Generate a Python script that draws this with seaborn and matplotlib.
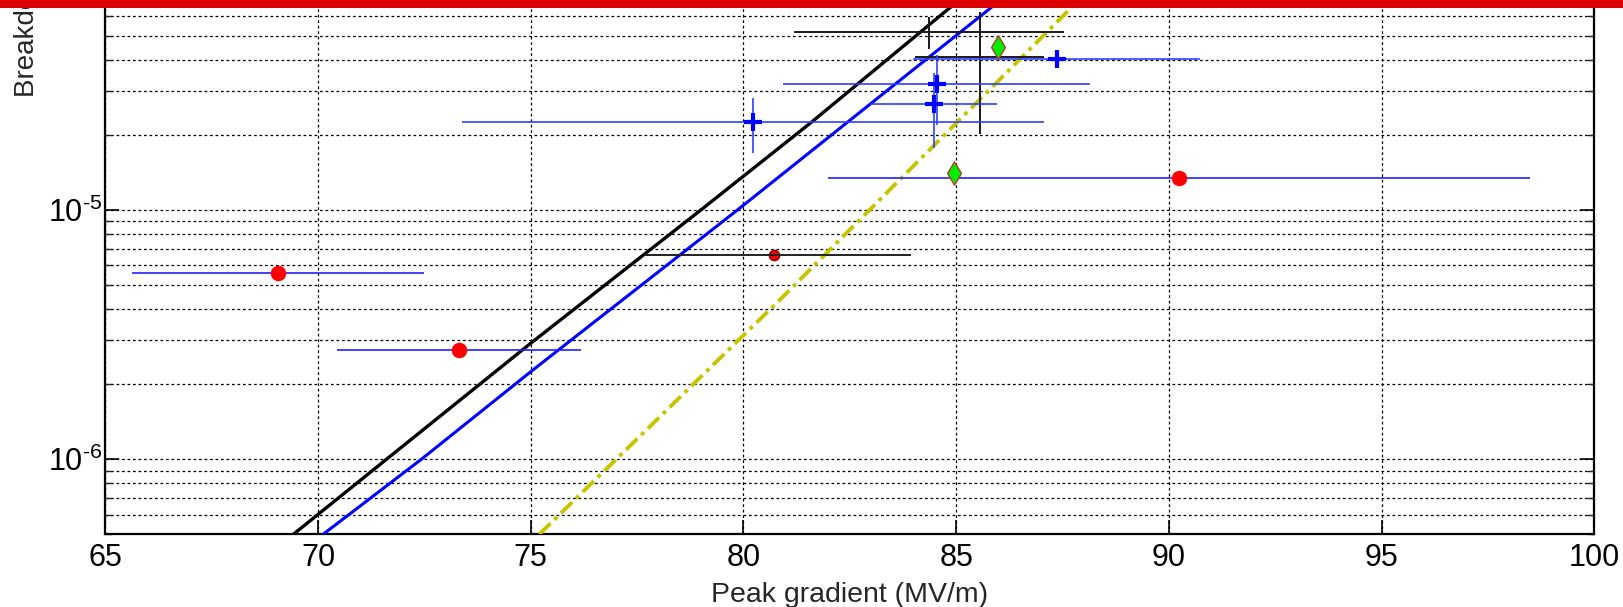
import matplotlib
matplotlib.use("Agg")
import matplotlib.pyplot as plt
import seaborn as sns
from matplotlib.ticker import (LogLocator, FuncFormatter, NullFormatter,
                               FixedLocator)
from matplotlib.patches import Rectangle
import numpy as np

# Scaling-law curves: peak gradient (MV/m) vs breakdown rate (1/pulse/m)
fit_black_E = [69.42, 71.61, 75.0, 79.0, 81.6, 84.84, 85.4]
fit_black_bdr = [5.0e-7, 1.0e-6, 2.92e-6, 1.0e-5, 2.25e-5, 6.45e-5, 7.6e-5]

fit_blue_E = [70.12, 72.43, 75.05, 79.86, 85.85, 86.3]
fit_blue_bdr = [5.0e-7, 1.0e-6, 2.28e-6, 1.0e-5, 6.54e-5, 7.6e-5]

fit_yellow_E = [75.2, 80.85, 86.05, 87.73, 88.1]
fit_yellow_bdr = [5.0e-7, 4.35e-6, 3.37e-5, 6.54e-5, 7.6e-5]

# Measured structures
red_E = [69.05, 73.32, 90.24]
red_bdr = [5.57e-6, 2.745e-6, 1.349e-5]
red_xerr = [3.43, 2.87, 8.25]

dark_E = [80.72]
dark_bdr = [6.6e-6]
dark_xerr_lo = [3.04]
dark_xerr_hi = [3.22]

green_E = [84.95, 85.99]
green_bdr = [1.403e-5, 4.5e-5]

cross_E = [80.22, 84.54, 84.47, 87.36]
cross_bdr = [2.254e-5, 3.19e-5, 2.66e-5, 4.02e-5]
cross_xerr = [6.84, 3.6, 1.49, 3.37]
cross_yerr = [0.56e-5, 1.0e-5, 0.88e-5, 0.0]

black_E = [84.37, 85.55]
black_bdr = [5.19e-5, 4.12e-5]
black_xerr = [3.17, 1.52]
black_yerr = [0.77e-5, 2.1e-5]

x_ticks = [65, 70, 75, 80, 85, 90, 95, 100]

sns.set_style("ticks")
plt.rcParams["font.family"] = ["Liberation Sans", "DejaVu Sans"]
plt.rcParams["mathtext.fontset"] = "custom"
plt.rcParams["mathtext.rm"] = "Liberation Sans"
plt.rcParams["mathtext.default"] = "regular"

fig = plt.figure(figsize=(16.23, 6.07), dpi=100)
ax = fig.add_axes([0.0649, 0.1198, 0.9174, 0.945])

ax.set_yscale("log")

# fitted curves
sns.lineplot(x=fit_black_E, y=fit_black_bdr, ax=ax, color="black", lw=2.4,
             sort=False, estimator=None, zorder=3)
sns.lineplot(x=fit_blue_E, y=fit_blue_bdr, ax=ax, color="#0000ff", lw=2.2,
             sort=False, estimator=None, zorder=3)
sns.lineplot(x=fit_yellow_E, y=fit_yellow_bdr, ax=ax, color="#c8c400", lw=2.8,
             sort=False, estimator=None, zorder=3)
ax.lines[-1].set_linestyle((0, (4, 1.4, 1, 1.4)))

# error bars
ax.errorbar(red_E, red_bdr, xerr=red_xerr, fmt="none", ecolor="#2020ff",
            elinewidth=1.2, capsize=0, zorder=4)
ax.errorbar(dark_E, dark_bdr, xerr=[dark_xerr_lo, dark_xerr_hi], fmt="none",
            ecolor="#222222", elinewidth=1.4, capsize=0, zorder=6)
ax.errorbar(cross_E, cross_bdr, xerr=cross_xerr, yerr=cross_yerr, fmt="+",
            color="#0000ff", ecolor="#3040ff", elinewidth=1.2, capsize=0,
            markersize=13, mew=3, zorder=5)
ax.errorbar(black_E, black_bdr, xerr=black_xerr, yerr=black_yerr, fmt="none",
            ecolor="#1a1a1a", elinewidth=1.4, capsize=0, zorder=4)

# markers
sns.scatterplot(x=red_E, y=red_bdr, ax=ax, marker="o", s=125, color="#ff0000",
                linewidth=0, zorder=6)
sns.scatterplot(x=dark_E, y=dark_bdr, ax=ax, marker="o", s=55, color="#ee0000",
                edgecolor="#8b0000", linewidth=1, zorder=5)
sns.scatterplot(x=green_E, y=green_bdr, ax=ax, marker="d", s=140, color="#00ee00",
                edgecolor="#b04020", linewidth=1, zorder=6)

ax.set_xlim(65, 100)
ax.set_ylim(5e-7, 1e-4)


def decade_label(v, pos):
    exp = int(round(np.log10(v)))
    sign = r"\text{-}" if exp < 0 else ""
    return r"$10^{%s%d}$" % (sign, abs(exp))


ax.xaxis.set_major_locator(FixedLocator(x_ticks))
ax.set_xticklabels([str(t) for t in x_ticks])
ax.yaxis.set_major_locator(LogLocator(base=10, numticks=10))
ax.yaxis.set_minor_locator(LogLocator(base=10, subs=range(2, 10), numticks=20))
ax.yaxis.set_major_formatter(FuncFormatter(decade_label))
ax.yaxis.set_minor_formatter(NullFormatter())

grid_kw = dict(color="black", linestyle=(0, (2.2, 2.2)), linewidth=0.9)
ax.grid(True, which="major", axis="both", **grid_kw)
ax.grid(True, which="minor", axis="y", **grid_kw)
ax.set_axisbelow(True)

ax.tick_params(axis="both", which="major", direction="in", length=10, width=1.2,
               labelsize=22, top=True, right=True, colors="black")
ax.tick_params(axis="x", which="major", pad=6)
ax.tick_params(axis="y", which="major", pad=2)
ax.tick_params(axis="y", which="minor", direction="in", length=5, width=1.0,
               right=True)
for sp in ax.spines.values():
    sp.set_linewidth(1.6)
    sp.set_color("black")

ax.set_xlabel("Peak gradient (MV/m)", fontsize=20.5, labelpad=7)
ax.set_ylabel("Breakdown rate (1/pulse/m)", fontsize=20, loc="bottom")
ax.yaxis.set_label_coords(-0.044, 0.762)

# slide header band
fig.add_artist(Rectangle((0, 1 - 8 / 607), 1, 8 / 607, transform=fig.transFigure,
                         facecolor="#dd0000", edgecolor="none", zorder=20))

fig.savefig("out.png", dpi=100)
